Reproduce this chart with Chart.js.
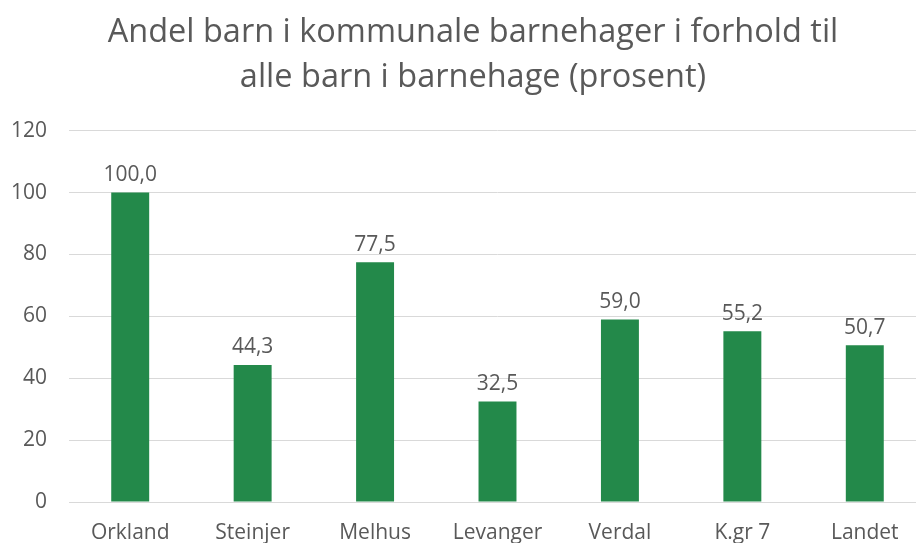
<!DOCTYPE html>
<html>
<head>
<meta charset="utf-8">
<script src="https://cdn.jsdelivr.net/npm/chart.js@4"></script>
<style>
  html, body { margin: 0; padding: 0; background: #fff; overflow: hidden; }
  #wrap { width: 956px; height: 543px; }
</style>
</head>
<body>
<div id="wrap"><canvas id="chart" width="956" height="543"></canvas></div>
<script>
// categories and values
const kommuner = ["Orkland", "Steinjer", "Melhus", "Levanger", "Verdal", "K.gr 7", "Landet"];
const andel = [100.0, 44.3, 77.5, 32.5, 59.0, 55.2, 50.7];
const tittel = ["Andel barn i kommunale barnehager i forhold til", "alle barn i barnehage (prosent)"];

const textColor = "#595959";
const fontFamily = "'Open Sans', 'Liberation Sans', sans-serif";

// draws the value above each bar, with comma decimals
const valueLabels = {
  id: "valueLabels",
  afterDatasetsDraw(chart) {
    const ctx = chart.ctx;
    const meta = chart.getDatasetMeta(0);
    ctx.save();
    ctx.fillStyle = textColor;
    ctx.font = "21px " + fontFamily;
    ctx.textAlign = "center";
    ctx.textBaseline = "bottom";
    meta.data.forEach((bar, i) => {
      const txt = andel[i].toFixed(1).replace(".", ",");
      ctx.fillText(txt, bar.x, bar.y - 7);
    });
    ctx.restore();
  }
};

const ctx = document.getElementById("chart").getContext("2d");
const myChart = new Chart(ctx, {
  type: "bar",
  data: {
    labels: kommuner,
    datasets: [
      {
        data: andel,
        backgroundColor: "#23894A",
        barPercentage: 0.62,
        categoryPercentage: 0.5,
      }
    ],
  },
  options: {
    responsive: false,
    animation: false,
    layout: {
      padding: { left: 10, right: 20, top: 0, bottom: 0 },
    },
    plugins: {
      legend: { display: false },
      tooltip: { enabled: false },
      title: {
        display: true,
        text: tittel,
        color: textColor,
        font: { family: fontFamily, size: 32.5, weight: "normal", lineHeight: 1.38 },
        padding: { top: 10, bottom: 31 },
      },
    },
    scales: {
      x: {
        grid: { display: false, drawTicks: false },
        border: { color: "#d9d9d9", width: 1 },
        ticks: {
          color: textColor,
          font: { family: fontFamily, size: 21 },
          padding: 18,
        },
        afterFit: (scale) => {
          scale.paddingLeft = 0;
          scale.paddingRight = 0;
          scale.height = 41;
        },
      },
      y: {
        min: 0,
        max: 120,
        ticks: {
          stepSize: 20,
          color: textColor,
          font: { family: fontFamily, size: 21 },
          padding: 22,
        },
        grid: { color: "#d9d9d9", lineWidth: 1, drawTicks: false },
        border: { display: false },
        afterFit: (scale) => {
          scale.width = 59;
        },
      },
      // empty strip on the right, keeps the title centred like the original
      yr: {
        position: "right",
        grid: { display: false },
        border: { display: false },
        ticks: { display: false },
        afterFit: (scale) => {
          scale.width = 10;
        },
      },
    },
  },
  plugins: [valueLabels],
});
</script>
</body>
</html>
